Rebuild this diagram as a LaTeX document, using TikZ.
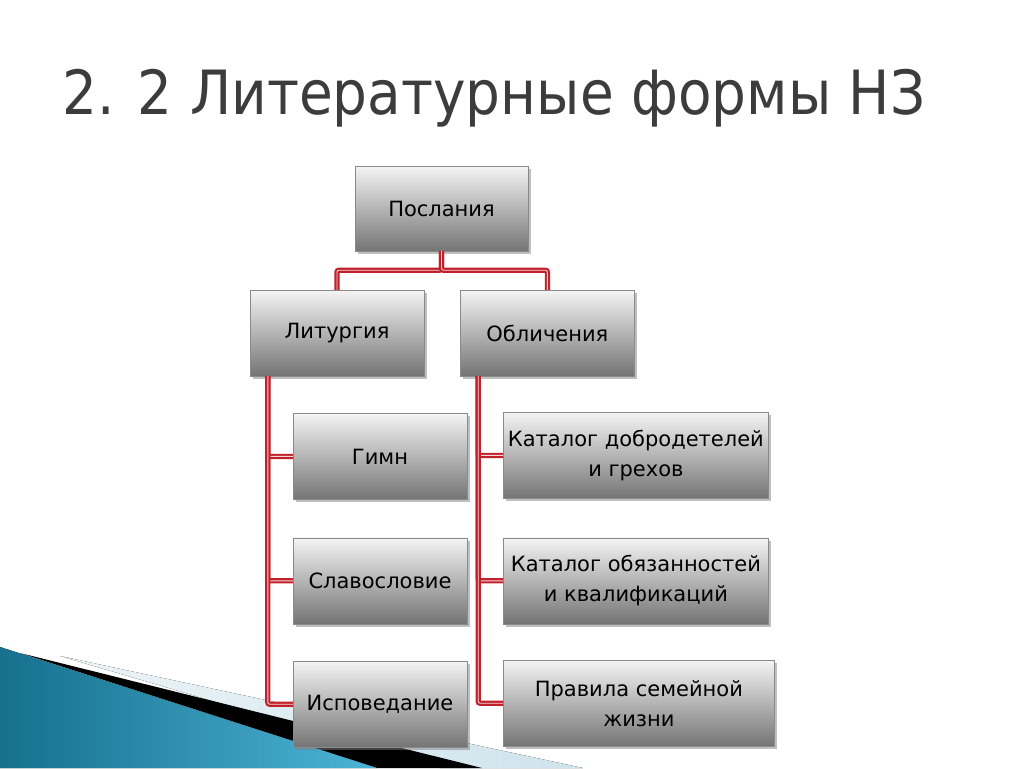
\documentclass[tikz,border=0pt]{standalone}
\usepackage{fontspec}
\setmainfont{DejaVu Sans}
\usetikzlibrary{positioning,shadows}
\definecolor{TitleGray}{HTML}{3C3C3C}
\definecolor{LinkRed}{HTML}{C1212B}
\definecolor{LinkPink}{HTML}{F6D6D8}
\definecolor{BoxEdge}{HTML}{8A8A8A}
\definecolor{BoxTop}{HTML}{F4F4F4}
\definecolor{BoxBottom}{HTML}{747474}
\definecolor{WaveDark}{HTML}{16708E}
\definecolor{WaveLight}{HTML}{4CB4D6}
\definecolor{WavePale}{HTML}{CFE3EC}

\begin{document}
\begin{tikzpicture}[x=1pt,y=-1pt,
  box/.style={draw=BoxEdge,top color=BoxTop,bottom color=BoxBottom,minimum width=174pt,minimum height=86pt,align=center,inner sep=2pt,font=\fontsize{21}{30}\selectfont,drop shadow={shadow xshift=2.5pt,shadow yshift=-3pt,opacity=0.5}},
  widebox/.style={box,minimum width=265pt},
  link/.style={draw=LinkRed,double=LinkPink,double distance=0.9pt,line width=2.2pt,rounded corners=2pt},
]
\useasboundingbox (0,0) rectangle (1024,768);
% corner waves
\fill[left color=WavePale!40,right color=WavePale] (60,656) -- (583,768) -- (440,768) -- cycle;
\fill[black] (20,653) -- (482,768) -- (377,768) -- cycle;
\fill[left color=WaveDark,right color=WaveLight] (0,647) -- (377,768) -- (0,768) -- cycle;

\node[anchor=base west,text=TitleGray,font=\fontsize{61}{61}\selectfont,xscale=0.9,inner sep=0pt] (title) at (62,114) {2. 2 Литературные формы НЗ};

\node[box,minimum width=173pt,minimum height=85pt] (post) at (441.5,208.5) {Послания};
\node[box] (lit) at (337,333) {Литургия};
\node[box,right=36pt of lit] (obl) {Обличения};
\node[box,below right=37pt and 43pt of lit.south west] (gimn) {Гимн};
\node[box,below=38pt of gimn] (slav) {Славословие};
\node[box,below=37pt of slav] (isp) {Исповедание};
\node[widebox,below right=36pt and 43pt of obl.south west] (katA) {Каталог добродетелей\\и грехов};
\node[widebox,below=39pt of katA] (katB) {Каталог обязанностей\\и квалификаций};
\node[widebox,minimum width=271pt,below=36pt of katB.south west,anchor=north west] (prav) {Правила семейной\\жизни};

\draw[link] (post.south) -- ++(0,19) -| (lit.north);
\draw[link] (post.south) -- ++(0,19) -| (obl.north);
\foreach \kid in {gimn,slav,isp}
  \draw[link] ([xshift=18pt]lit.south west) |- (\kid.west);
\foreach \kid in {katA,katB,prav}
  \draw[link] ([xshift=18pt]obl.south west) |- (\kid.west);
\end{tikzpicture}
\end{document}
